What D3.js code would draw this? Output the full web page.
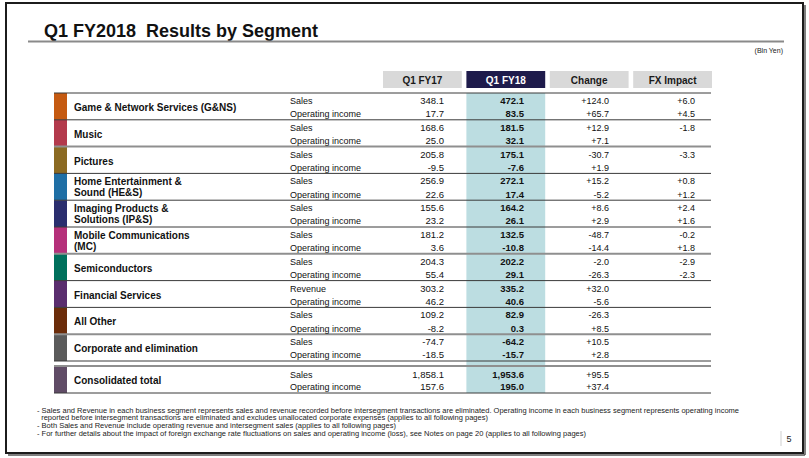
<!DOCTYPE html>
<html>
<head>
<meta charset="utf-8">
<script src="https://cdn.jsdelivr.net/npm/d3@7"></script>
<style>
  html, body { margin: 0; padding: 0; background: #fff; }
  svg { display: block; font-family: "Liberation Sans", Arial, sans-serif; }
</style>
</head>
<body>
<svg id="chart" width="809" height="458"></svg>
<script>
// ---------------- DATA ----------------
const title = "Q1 FY2018  Results by Segment";
const unitLabel = "(Bln Yen)";
const columns = ["Q1 FY17", "Q1 FY18", "Change", "FX Impact"];
const segments = [
  "Game & Network Services (G&NS)",
  "Music",
  "Pictures",
  "Home Entertainment &|Sound (HE&S)",
  "Imaging Products &|Solutions (IP&S)",
  "Mobile Communications|(MC)",
  "Semiconductors",
  "Financial Services",
  "All Other",
  "Corporate and elimination",
  "Consolidated total"
];
const segmentColors = ["#c55a11", "#b33a4c", "#8b6a22", "#1f6fa5", "#2a2e6e", "#b5307a",
                       "#00705c", "#5a2d6e", "#6b2c0a", "#5b5b5b", "#604c66"];
const metricLabels = [
  ["Sales", "Operating income"], ["Sales", "Operating income"], ["Sales", "Operating income"],
  ["Sales", "Operating income"], ["Sales", "Operating income"], ["Sales", "Operating income"],
  ["Sales", "Operating income"], ["Revenue", "Operating income"], ["Sales", "Operating income"],
  ["Sales", "Operating income"], ["Sales", "Operating income"]
];
const q1fy17 = [[348.1, 17.7], [168.6, 25.0], [205.8, -9.5], [256.9, 22.6], [155.6, 23.2], [181.2, 3.6],
                [204.3, 55.4], [303.2, 46.2], [109.2, -8.2], [-74.7, -18.5], [1858.1, 157.6]];
const q1fy18 = [[472.1, 83.5], [181.5, 32.1], [175.1, -7.6], [272.1, 17.4], [164.2, 26.1], [132.5, -10.8],
                [202.2, 29.1], [335.2, 40.6], [82.9, 0.3], [-64.2, -15.7], [1953.6, 195.0]];
const change = [["+124.0", "+65.7"], ["+12.9", "+7.1"], ["-30.7", "+1.9"], ["+15.2", "-5.2"], ["+8.6", "+2.9"],
                ["-48.7", "-14.4"], ["-2.0", "-26.3"], ["+32.0", "-5.6"], ["-26.3", "+8.5"], ["+10.5", "+2.8"],
                ["+95.5", "+37.4"]];
const fxImpact = [["+6.0", "+4.5"], ["-1.8", ""], ["-3.3", ""], ["+0.8", "+1.2"], ["+2.4", "+1.6"],
                  ["-0.2", "+1.8"], ["-2.9", "-2.3"], ["", ""], ["", ""], ["", ""], ["", ""]];
const footnotes = [
  "- Sales and Revenue in each business segment represents sales and revenue recorded before intersegment transactions are eliminated. Operating income in each business segment represents operating income",
  "  reported before intersegment transactions are eliminated and excludes unallocated corporate expenses (applies to all following pages)",
  "- Both Sales and Revenue include operating revenue and intersegment sales (applies to all following pages)",
  "- For further details about the impact of foreign exchange rate fluctuations on sales and operating income (loss), see Notes on page 20 (applies to all following pages)"
];
const pageNumber = "5";

// ---------------- LAYOUT ----------------
const svg = d3.select("#chart");
const fmt0 = d3.format(",.1f");
const fmt = v => fmt0(v).replace("\u2212", "-");

// Frame
svg.append("rect").attr("x", 6).attr("y", 3).attr("width", 797).attr("height", 450)
  .attr("fill", "none").attr("stroke", "#1c1c1c").attr("stroke-width", 2);
svg.append("line").attr("x1", 805).attr("x2", 805).attr("y1", 5).attr("y2", 455)
  .attr("stroke", "#555").attr("stroke-width", 1.5);
svg.append("line").attr("x1", 8).attr("x2", 805).attr("y1", 455).attr("y2", 455)
  .attr("stroke", "#555").attr("stroke-width", 1.5);

// Title
svg.append("text").attr("x", 44).attr("y", 37).text(title)
  .attr("font-size", 18).attr("font-weight", "bold").attr("fill", "#111")
  .attr("textLength", 274).attr("lengthAdjust", "spacingAndGlyphs")
  .style("white-space", "pre");
svg.append("line").attr("x1", 28).attr("x2", 784).attr("y1", 41.5).attr("y2", 41.5)
  .attr("stroke", "#8a8a8a").attr("stroke-width", 2);
svg.append("text").attr("x", 783).attr("y", 53).attr("text-anchor", "end")
  .attr("font-size", 7).attr("fill", "#222").text(unitLabel);

// Column scale
const colX = d3.scaleBand().domain(columns).range([383, 712]).paddingInner(0.055);
const colRight = { "Q1 FY17": 444, "Q1 FY18": 524, "Change": 609, "FX Impact": 695 };

// Row scale
const nSeg = segments.length - 1;
const ySeg = d3.scaleLinear().domain([0, nSeg]).range([93, 361]);
const segH = ySeg(1) - ySeg(0);
const consTop = 367, consH = 26;
const segTop = i => i < nSeg ? ySeg(i) : consTop;
const segHeight = i => i < nSeg ? segH : consH;

// Highlight column
svg.append("rect").attr("x", colX("Q1 FY18")).attr("y", 93)
  .attr("width", colX.bandwidth()).attr("height", 393 - 93).attr("fill", "#bcdde1");

// Header boxes
const hdr = svg.append("g").selectAll("g").data(columns).join("g");
hdr.append("rect").attr("x", d => colX(d)).attr("y", 71).attr("width", colX.bandwidth()).attr("height", 17)
  .attr("fill", d => d === "Q1 FY18" ? "#1e1b4b" : "#d9d9d9");
hdr.append("text").attr("x", d => colX(d) + colX.bandwidth() / 2).attr("y", 83.5)
  .attr("text-anchor", "middle").attr("font-size", 10).attr("font-weight", "bold")
  .attr("fill", d => d === "Q1 FY18" ? "#fff" : "#1a1a1a").text(d => d);

// Color blocks
svg.append("g").selectAll("rect").data(segments).join("rect")
  .attr("x", 54).attr("y", (d, i) => segTop(i)).attr("width", 13).attr("height", (d, i) => segHeight(i))
  .attr("fill", (d, i) => segmentColors[i]);

// Separator lines
const lineYs = [{ y: 93, gray: false }];
for (let i = 0; i < nSeg; i++) {
  lineYs.push({ y: ySeg(i + 1), gray: (i === 1 || i === 5 || i === 8) });
}
lineYs.push({ y: 366, gray: true });
lineYs.push({ y: 393, gray: false });
svg.append("g").selectAll("line").data(lineYs).join("line")
  .attr("x1", 54).attr("x2", 711).attr("y1", d => d.y).attr("y2", d => d.y)
  .attr("stroke", d => d.gray ? "#8f8f8f" : "#3a3a3a").attr("stroke-width", d => d.gray ? 2 : 1);

// Segment names
const segG = svg.append("g").selectAll("g").data(segments).join("g")
  .attr("transform", (d, i) => `translate(0,${segTop(i)})`);
segG.each(function (d, i) {
  const parts = d.split("|");
  const g = d3.select(this);
  const ys = parts.length === 1 ? [i < nSeg ? 14.5 : 13.8] : [8, 19.3];
  parts.forEach((p, k) => {
    g.append("text").attr("x", 74).attr("y", ys[k] + 3.6)
      .attr("font-size", 10).attr("font-weight", "bold").attr("fill", "#111").text(p);
  });
});

// Metric labels and values
const rowOffsets = [7.7, 21];
const consOffsets = [7.2, 19.7];
segG.each(function (d, i) {
  const g = d3.select(this);
  const offs = i < nSeg ? rowOffsets : consOffsets;
  [0, 1].forEach(r => {
    const yy = offs[r] + 3.3;
    g.append("text").attr("x", 290).attr("y", yy).attr("font-size", 9).attr("fill", "#111")
      .text(metricLabels[i][r]);
    g.append("text").attr("x", colRight["Q1 FY17"]).attr("y", yy).attr("text-anchor", "end")
      .attr("font-size", 9.5).attr("fill", "#111").text(fmt(q1fy17[i][r]));
    g.append("text").attr("x", colRight["Q1 FY18"]).attr("y", yy).attr("text-anchor", "end")
      .attr("font-size", 9.5).attr("font-weight", "bold").attr("fill", "#111").text(fmt(q1fy18[i][r]));
    g.append("text").attr("x", colRight["Change"]).attr("y", yy).attr("text-anchor", "end")
      .attr("font-size", 9).attr("fill", "#111").text(change[i][r]);
    if (fxImpact[i][r]) {
      g.append("text").attr("x", colRight["FX Impact"]).attr("y", yy).attr("text-anchor", "end")
        .attr("font-size", 9).attr("fill", "#111").text(fxImpact[i][r]);
    }
  });
});

// Footnotes
const fnY = [412.5, 420, 427.5, 435.5];
const fnLen = [702, 451, 359, 549];
svg.append("g").selectAll("text").data(footnotes).join("text")
  .attr("x", 37).attr("y", (d, i) => fnY[i]).attr("font-size", 7).attr("fill", "#222")
  .style("white-space", "pre")
  .attr("textLength", (d, i) => fnLen[i]).attr("lengthAdjust", "spacingAndGlyphs")
  .text(d => d);

// Page number
svg.append("line").attr("x1", 781).attr("x2", 781).attr("y1", 431).attr("y2", 446)
  .attr("stroke", "#cfcfcf").attr("stroke-width", 1);
svg.append("text").attr("x", 789).attr("y", 441.5).attr("text-anchor", "middle")
  .attr("font-size", 9).attr("fill", "#222").text(pageNumber);
</script>
</body>
</html>
